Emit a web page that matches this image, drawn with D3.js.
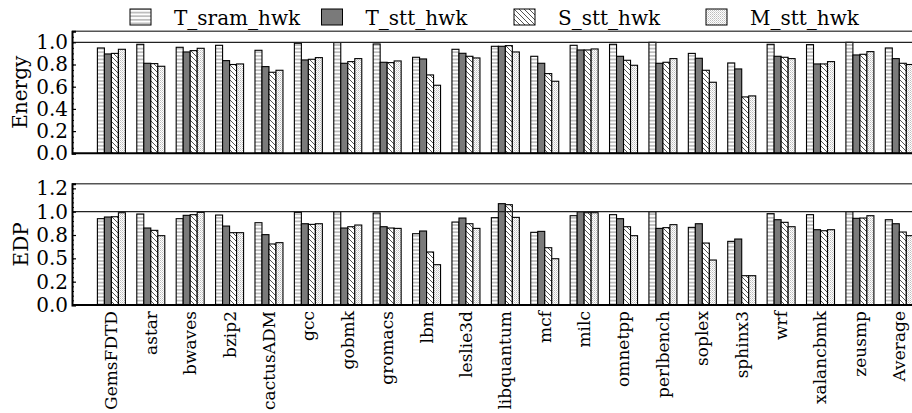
<!DOCTYPE html>
<html><head><meta charset="utf-8">
<script src="https://cdn.jsdelivr.net/npm/d3@7"></script>
<style>
body{margin:0;background:#fff}
svg{display:block}
text{font-family:"DejaVu Serif",serif;fill:#000}
</style>
</head><body>
<svg id="chart" width="912" height="413"></svg>
<script>
// Benchmarks (last group is the average)
const benchmarks = ["GemsFDTD","astar","bwaves","bzip2","cactusADM","gcc","gobmk","gromacs","lbm","leslie3d","libquantum","mcf","milc","omnetpp","perlbench","soplex","sphinx3","wrf","xalancbmk","zeusmp","Average"];
const seriesNames = ["T_sram_hwk","T_stt_hwk","S_stt_hwk","M_stt_hwk"];

// Normalised energy
const energyTSram = [0.949,0.982,0.955,0.973,0.928,0.991,0.997,0.985,0.865,0.937,0.964,0.874,0.973,0.982,1.0,0.900,0.814,0.982,0.979,1.0,0.949];
const energyTStt  = [0.895,0.811,0.913,0.835,0.781,0.841,0.811,0.820,0.850,0.901,0.964,0.811,0.931,0.874,0.811,0.856,0.760,0.874,0.805,0.886,0.853];
const energySStt  = [0.900,0.808,0.925,0.800,0.730,0.847,0.826,0.817,0.706,0.874,0.970,0.718,0.931,0.838,0.820,0.748,0.508,0.865,0.805,0.892,0.811];
const energyMStt  = [0.937,0.784,0.946,0.805,0.748,0.862,0.853,0.832,0.613,0.859,0.913,0.649,0.940,0.793,0.853,0.640,0.517,0.853,0.826,0.916,0.800];

// Normalised energy-delay product
const edpTSram = [0.925,0.975,0.925,0.964,0.882,0.993,1.0,0.986,0.764,0.889,0.936,0.779,0.957,0.968,1.0,0.832,0.682,0.979,0.968,1.0,0.914];
const edpTStt  = [0.943,0.825,0.961,0.846,0.754,0.871,0.825,0.839,0.793,0.932,1.086,0.789,1.0,0.925,0.821,0.871,0.707,0.914,0.807,0.929,0.871];
const edpSStt  = [0.946,0.800,0.968,0.775,0.654,0.864,0.839,0.825,0.568,0.871,1.075,0.614,0.989,0.839,0.829,0.664,0.314,0.886,0.796,0.932,0.782];
const edpMStt  = [0.989,0.743,0.993,0.775,0.668,0.871,0.857,0.821,0.432,0.821,0.939,0.496,0.989,0.743,0.861,0.482,0.314,0.839,0.807,0.957,0.743];

// Axis ticks
const energyTicks = [0,0.2,0.4,0.6,0.8,1.0];
const energyTickLabels = ["0.0","0.2","0.4","0.6","0.8","1.0"];
const edpTicks = [0,0.25,0.5,0.75,1.0,1.25];
const edpTickLabels = ["0.0","0.2","0.5","0.8","1.0","1.2"];

const svg = d3.select("#chart");

// hatch patterns for the four series
const defs = svg.append("defs");
const pH = defs.append("pattern").attr("id","hatchH").attr("patternUnits","userSpaceOnUse").attr("width",8).attr("height",3.6);
pH.append("rect").attr("width",8).attr("height",3.6).attr("fill","#fff");
pH.append("line").attr("x1",0).attr("x2",8).attr("y1",1.8).attr("y2",1.8).attr("stroke","#8a8a8a").attr("stroke-width",1);

const pD = defs.append("pattern").attr("id","hatchD").attr("patternUnits","userSpaceOnUse").attr("width",5).attr("height",5);
pD.append("rect").attr("width",5).attr("height",5).attr("fill","#fff");
pD.append("path").attr("d","M-1,-1L6,6M-1,4L1,6M4,-1L6,1").attr("stroke","#555").attr("stroke-width",1);

const pM = defs.append("pattern").attr("id","dots").attr("patternUnits","userSpaceOnUse").attr("width",2).attr("height",2);
pM.append("rect").attr("width",2).attr("height",2).attr("fill","#fff");
pM.append("rect").attr("width",1).attr("height",1).attr("fill","#bdbdbd");
pM.append("rect").attr("x",1).attr("y",1).attr("width",1).attr("height",1).attr("fill","#d8d8d8");

const fills = ["url(#hatchH)","#7a7a7a","url(#hatchD)","url(#dots)"];

const x = d3.scaleLinear().domain([-1, 21]).range([72, 938.7]);
const barW = 7;

const panels = [
  {label:"Energy", labelX:27, series:[energyTSram,energyTStt,energySStt,energyMStt], ymax:1.1, top:31.2, bottom:153.3, ticks:energyTicks, tickLabels:energyTickLabels, minorStep:0.05},
  {label:"EDP", labelX:28, series:[edpTSram,edpTStt,edpSStt,edpMStt], ymax:1.3, top:183.7, bottom:305, ticks:edpTicks, tickLabels:edpTickLabels, minorStep:0.05}
];

panels.forEach((p) => {
  const y = d3.scaleLinear().domain([0, p.ymax]).range([p.bottom, p.top]);
  const g = svg.append("g");

  // bars
  p.series.forEach((vals, si) => {
    g.selectAll(null).data(vals).enter().append("rect")
      .attr("x", (d,i) => x(i) - 2*barW + si*barW)
      .attr("y", d => y(d))
      .attr("width", barW)
      .attr("height", d => y(0) - y(d))
      .attr("fill", fills[si])
      .attr("stroke", "#000")
      .attr("stroke-width", 1.1);
  });

  // reference line at 1.0
  g.append("line").attr("x1",72).attr("x2",912).attr("y1",y(1)).attr("y2",y(1))
    .attr("stroke","#222").attr("stroke-width",1.2);

  // top spine
  g.append("line").attr("x1",72).attr("x2",912).attr("y1",y(p.ymax)).attr("y2",y(p.ymax))
    .attr("stroke","#555").attr("stroke-width",1.5);
  // bottom spine
  g.append("line").attr("x1",72).attr("x2",912).attr("y1",y(0)).attr("y2",y(0))
    .attr("stroke","#000").attr("stroke-width",2);

  // y axis: minor ticks
  const minor = d3.range(0, p.ymax + 1e-9, p.minorStep);
  g.append("g").attr("transform","translate(72,0)")
    .call(d3.axisLeft(y).tickValues(minor).tickSize(-2).tickFormat(""))
    .call(a => a.select(".domain").remove())
    .call(a => a.selectAll("line").attr("stroke","#000").attr("stroke-width",1));
  // y axis: major ticks and labels
  g.append("g").attr("transform","translate(72,0)")
    .call(d3.axisLeft(y).tickValues(p.ticks).tickSize(-4).tickPadding(4)
      .tickFormat((d,i) => p.tickLabels[i]))
    .call(a => a.select(".domain").attr("stroke","#000").attr("stroke-width",2))
    .call(a => a.selectAll("line").attr("stroke","#000").attr("stroke-width",1.2))
    .call(a => a.selectAll("text").attr("font-family","DejaVu Serif").attr("font-size",20).attr("fill","#000"));

  // y axis title
  svg.append("text")
    .attr("transform", `translate(${p.labelX},${(p.top+p.bottom)/2}) rotate(-90)`)
    .attr("text-anchor","middle")
    .attr("font-size",20)
    .text(p.label);
});

// category labels under the lower panel
svg.append("g").selectAll("text").data(benchmarks).enter().append("text")
  .attr("transform", (d,i) => `translate(${x(i)},311) rotate(-90)`)
  .attr("text-anchor","end")
  .attr("dy","0.35em")
  .attr("font-size",17)
  .text(d => d);

// legend
const legendX = [130, 321.5, 514, 706];
const lg = svg.append("g");
seriesNames.forEach((name, i) => {
  lg.append("rect").attr("x", legendX[i]).attr("y", 9).attr("width", 21).attr("height", 16)
    .attr("fill", fills[i]).attr("stroke", "#000").attr("stroke-width", 1);
  lg.append("text").attr("x", legendX[i] + 44).attr("y", 24.5).attr("font-size", 20).text(name);
});
</script>
</body></html>
